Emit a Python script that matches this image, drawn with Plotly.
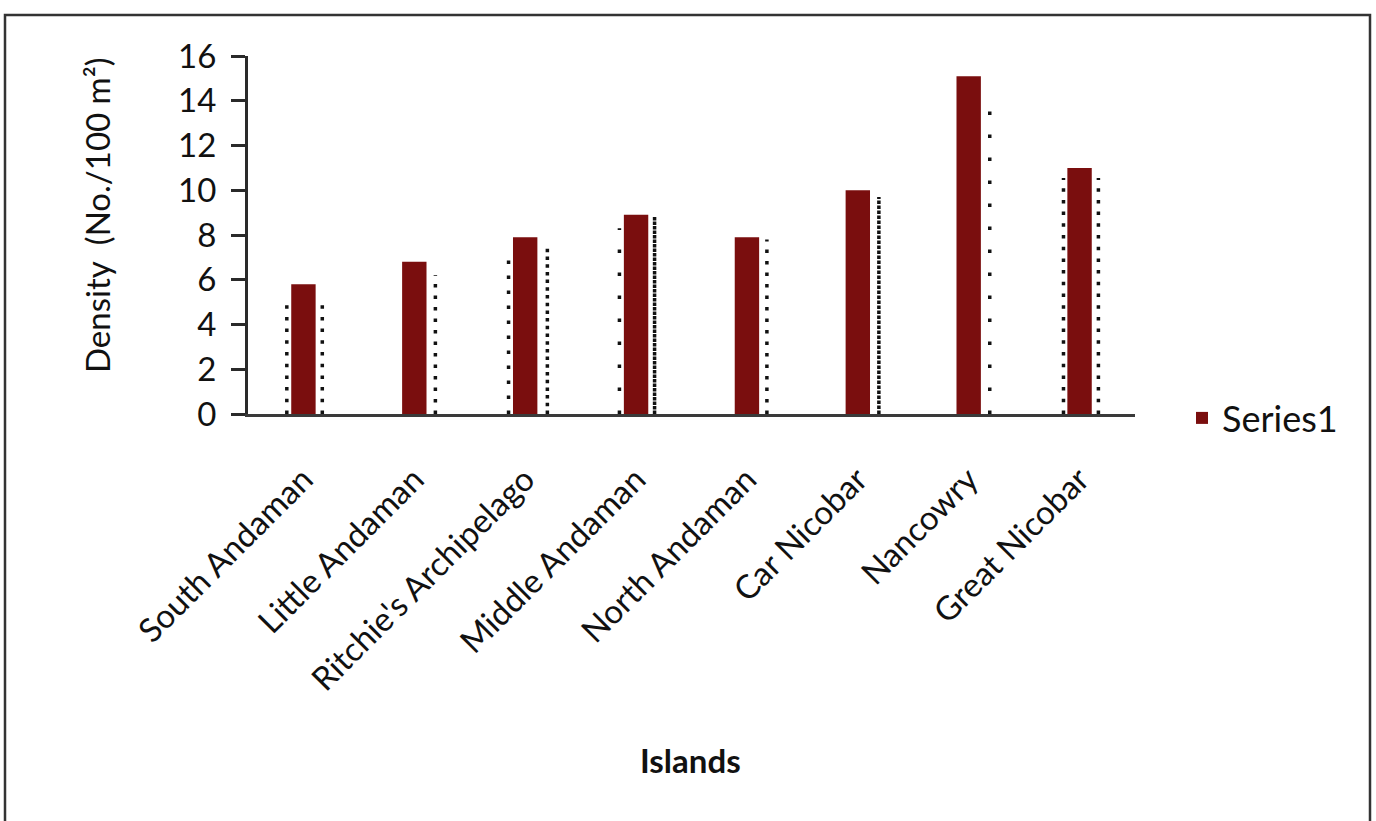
import plotly.graph_objects as go

# Island-wise density values
islands = ["South Andaman", "Little Andaman", "Ritchie's Archipelago", "Middle Andaman",
           "North Andaman", "Car Nicobar", "Nancowry", "Great Nicobar"]
density = [5.8, 6.8, 7.9, 8.9, 7.9, 10.0, 15.1, 11.0]

# Dotted guide lines beside the bars: island index and height reached
guide_island = [0, 0, 1, 2, 2, 3, 3, 4, 5, 6, 7, 7]
guide_top = [5.2, 5.2, 6.2, 7.2, 7.5, 8.3, 8.8, 7.8, 9.7, 14.3, 10.55, 10.55]

# Drawing style for each guide line: horizontal offset from the category centre and dot period (px)
guide_offset = [-0.15, 0.17, 0.19, -0.15, 0.2, -0.15, 0.167, 0.18, 0.19, 0.19, -0.145, 0.17]
guide_period = [11.7, 11.7, 11.5, 15, 7.7, 23, 4.5, 11.5, 5, 23, 11.7, 11.7]

W, H = 1376, 821
ML, MR, MT, MB = 248, 241, 56, 407
FONT = "Lato"
BAR = "#7a0e0e"

fig = go.Figure()

for idx, top, off, per in zip(guide_island, guide_top, guide_offset, guide_period):
    dot = 3.5
    fig.add_trace(go.Scatter(
        x=[idx + off, idx + off], y=[0, top], mode="lines",
        line=dict(color="#111111", width=dot, dash=f"{dot}px,{per - dot}px"),
        showlegend=False, hoverinfo="skip"))

fig.add_trace(go.Bar(
    x=list(range(len(islands))), y=density, name="Series1",
    marker=dict(color=BAR, line=dict(width=0)), width=0.22))

pw = W - ML - MR
ph = H - MT - MB

def px_x(p):
    return (p - ML) / pw

def px_y(p):
    return (H - MB - p) / ph

# outer chart frame
fig.add_shape(type="rect", xref="paper", yref="paper",
              x0=px_x(5), x1=px_x(1370), y0=px_y(835), y1=px_y(15),
              line=dict(color="#333333", width=2.5), layer="below")

fig.add_annotation(text="Density  (No./100 m²)", xref="paper", yref="paper",
                   x=px_x(97), y=px_y(215), textangle=-90, showarrow=False,
                   font=dict(family=FONT, size=33, color="#111111"),
                   xanchor="center", yanchor="middle")
fig.add_annotation(text="<b>Islands</b>", xref="paper", yref="paper",
                   x=px_x(690), y=px_y(760), showarrow=False,
                   font=dict(family=FONT, size=33, color="#111111"),
                   xanchor="center", yanchor="middle")

fig.update_layout(
    width=W, height=H, autosize=False,
    margin=dict(l=ML, r=MR, t=MT, b=MB),
    paper_bgcolor="white", plot_bgcolor="white",
    font=dict(family=FONT, size=33, color="#111111"),
    showlegend=True,
    legend=dict(x=px_x(1182), y=px_y(418), xanchor="left", yanchor="middle",
                font=dict(family=FONT, size=36, color="#111111"),
                bgcolor="rgba(0,0,0,0)"),
    bargap=0.78,
)
fig.update_xaxes(
    range=[-0.5, 7.5], tickvals=list(range(len(islands))), ticktext=islands,
    tickangle=-45, showline=True, linecolor="#3a3a3a", linewidth=3,
    ticks="", showgrid=False, zeroline=False, ticklabelstandoff=30,
    tickfont=dict(family=FONT, size=33, color="#111111"))
fig.update_yaxes(
    range=[0, 16], dtick=2, showline=True, linecolor="#2a2a2a", linewidth=3,
    ticks="outside", ticklen=14, tickwidth=3, tickcolor="#2a2a2a",
    showgrid=False, zeroline=False, ticklabelstandoff=8,
    tickfont=dict(family=FONT, size=33, color="#111111"))

fig.write_html("out.html")
